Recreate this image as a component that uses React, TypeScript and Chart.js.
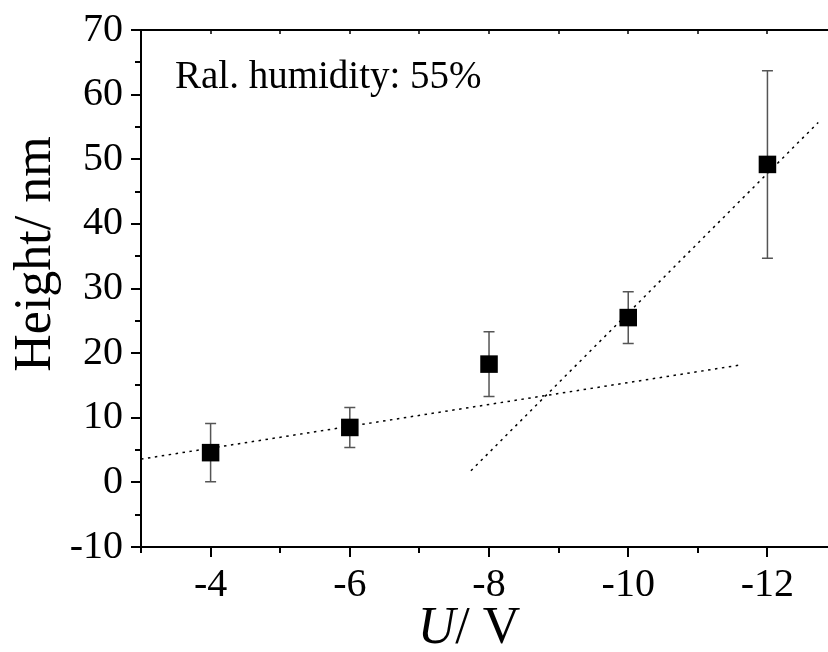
import React, { useEffect, useRef } from "react";
import { Chart, registerables } from "chart.js";

Chart.register(...registerables);

// ---- data ----
const voltages = [-4, -6, -8, -10, -12];
const heights = [4.6, 8.5, 18.3, 25.5, 49.2];
const heightErrors = [4.5, 3.1, 5.0, 4.0, 14.5];

const fitLowX = [-3, -11.63];
const fitLowY = [3.6, 18.2];
const fitHighX = [-7.74, -12.73];
const fitHighY = [1.8, 55.7];

const xTickValues = [-3, -4, -5, -6, -7, -8, -9, -10, -11, -12];
const yTickValues = [-10, -5, 0, 5, 10, 15, 20, 25, 30, 35, 40, 45, 50, 55, 60, 65, 70];

const annotationText = "Ral. humidity: 55%";
const yTitle = "Height/ nm";
const xTitleItalic = "U";
const xTitleRest = "/ V";

const FONT = "'Liberation Serif', 'Times New Roman', serif";

const zeroPadding = (s: any) => {
  s.paddingTop = 0;
  s.paddingBottom = 0;
  s.paddingLeft = 0;
  s.paddingRight = 0;
};

const decorPlugin = {
  id: "decor",
  beforeDatasetsDraw(chart: any) {
    const ctx = chart.ctx;
    const xs = chart.scales.x;
    const ys = chart.scales.y;
    ctx.save();
    ctx.strokeStyle = "#555555";
    ctx.lineWidth = 1.5;
    voltages.forEach((v, i) => {
      const px = xs.getPixelForValue(v);
      const top = ys.getPixelForValue(heights[i] + heightErrors[i]);
      const bot = ys.getPixelForValue(heights[i] - heightErrors[i]);
      ctx.beginPath();
      ctx.moveTo(px, top);
      ctx.lineTo(px, bot);
      ctx.moveTo(px - 5.5, top);
      ctx.lineTo(px + 5.5, top);
      ctx.moveTo(px - 5.5, bot);
      ctx.lineTo(px + 5.5, bot);
      ctx.stroke();
    });
    ctx.restore();
  },
  afterDraw(chart: any) {
    const ctx = chart.ctx;
    const xs = chart.scales.x;
    const ys = chart.scales.y;
    const area = chart.chartArea;
    ctx.save();
    ctx.strokeStyle = "#000";
    ctx.lineWidth = 2;
    // top border
    ctx.beginPath();
    ctx.moveTo(area.left - 1, area.top);
    ctx.lineTo(area.right, area.top);
    ctx.stroke();
    // y ticks (outward)
    yTickValues.forEach((v) => {
      const py = Math.round(ys.getPixelForValue(v));
      const len = v % 10 === 0 ? 10 : 6;
      ctx.beginPath();
      ctx.moveTo(area.left - len, py);
      ctx.lineTo(area.left, py);
      ctx.stroke();
    });
    // x ticks (outward) + top ticks (inward)
    xTickValues.forEach((v) => {
      const px = Math.round(xs.getPixelForValue(v));
      const len = v % 2 === 0 ? 10 : 6;
      ctx.beginPath();
      ctx.moveTo(px, area.bottom);
      ctx.lineTo(px, area.bottom + len);
      ctx.stroke();
      ctx.beginPath();
      ctx.lineWidth = 1.5;
      ctx.moveTo(px, area.top);
      ctx.lineTo(px, area.top + 4);
      ctx.stroke();
      ctx.lineWidth = 2;
    });
    // annotation
    ctx.fillStyle = "#000";
    ctx.textBaseline = "alphabetic";
    ctx.textAlign = "left";
    ctx.font = `39px ${FONT}`;
    ctx.fillText(annotationText, 175, 88);
    // x title
    ctx.font = `italic 52px ${FONT}`;
    const wU = ctx.measureText(xTitleItalic).width;
    ctx.font = `52px ${FONT}`;
    const wR = ctx.measureText(xTitleRest).width;
    const cx = 469;
    const startX = cx - (wU + wR) / 2;
    ctx.font = `italic 52px ${FONT}`;
    ctx.fillText(xTitleItalic, startX, 643);
    ctx.font = `52px ${FONT}`;
    ctx.fillText(xTitleRest, startX + wU, 643);
    // y title
    ctx.translate(50, 254);
    ctx.rotate(-Math.PI / 2);
    ctx.textAlign = "center";
    ctx.font = `52px ${FONT}`;
    ctx.fillText(yTitle, 0, 0);
    ctx.restore();
  },
};

export default function App() {
  const ref = useRef<HTMLCanvasElement | null>(null);
  useEffect(() => {
    if (!ref.current) return;
    const chart = new Chart(ref.current, {
      type: "scatter",
      data: {
        datasets: [
          {
            data: fitLowX.map((x, i) => ({ x, y: fitLowY[i] })),
            showLine: true,
            borderColor: "#000",
            borderWidth: 1.5,
            borderDash: [2.5, 4.5],
            pointRadius: 0,
          },
          {
            data: fitHighX.map((x, i) => ({ x, y: fitHighY[i] })),
            showLine: true,
            borderColor: "#000",
            borderWidth: 1.5,
            borderDash: [2.5, 4.5],
            pointRadius: 0,
          },
          {
            data: voltages.map((x, i) => ({ x, y: heights[i] })),
            showLine: false,
            pointStyle: "rect",
            pointRadius: 12.4,
            backgroundColor: "#000",
            borderColor: "#000",
            borderWidth: 0,
          },
        ],
      },
      options: {
        responsive: false,
        animation: false,
        devicePixelRatio: 1,
        layout: { autoPadding: false, padding: { top: 30, right: 0, left: 0, bottom: 0 } },
        plugins: { legend: { display: false }, tooltip: { enabled: false } },
        scales: {
          x: {
            type: "linear",
            reverse: true,
            min: -12.87,
            max: -3,
            afterBuildTicks: (s: any) => {
              s.ticks = xTickValues.map((v) => ({ value: v }));
            },
            afterFit: (s: any) => {
              s.height = 105;
              zeroPadding(s);
            },
            grid: { display: true, drawOnChartArea: false, drawTicks: false },
            border: { display: true, color: "#000", width: 2 },
            ticks: {
              autoSkip: false,
              maxRotation: 0,
              padding: 14,
              color: "#000",
              font: { family: FONT, size: 40 },
              callback: (v: any) => (Number(v) % 2 === 0 ? String(v) : ""),
            },
          },
          y: {
            type: "linear",
            min: -10,
            max: 70,
            afterBuildTicks: (s: any) => {
              s.ticks = yTickValues.map((v) => ({ value: v }));
            },
            afterFit: (s: any) => {
              s.width = 141;
              zeroPadding(s);
            },
            grid: { display: true, drawOnChartArea: false, drawTicks: false },
            border: { display: true, color: "#000", width: 2 },
            ticks: {
              autoSkip: false,
              padding: 18,
              color: "#000",
              font: { family: FONT, size: 40 },
              callback: (v: any) => (Number(v) % 10 === 0 ? String(v) : ""),
            },
          },
        },
      },
      plugins: [decorPlugin],
    });
    return () => chart.destroy();
  }, []);
  return (
    <div style={{ position: "absolute", left: 0, top: 0, width: 828, height: 652, background: "#fff", overflow: "hidden" }}>
      <canvas ref={ref} width={828} height={652} style={{ width: 828, height: 652, display: "block" }} />
    </div>
  );
}
